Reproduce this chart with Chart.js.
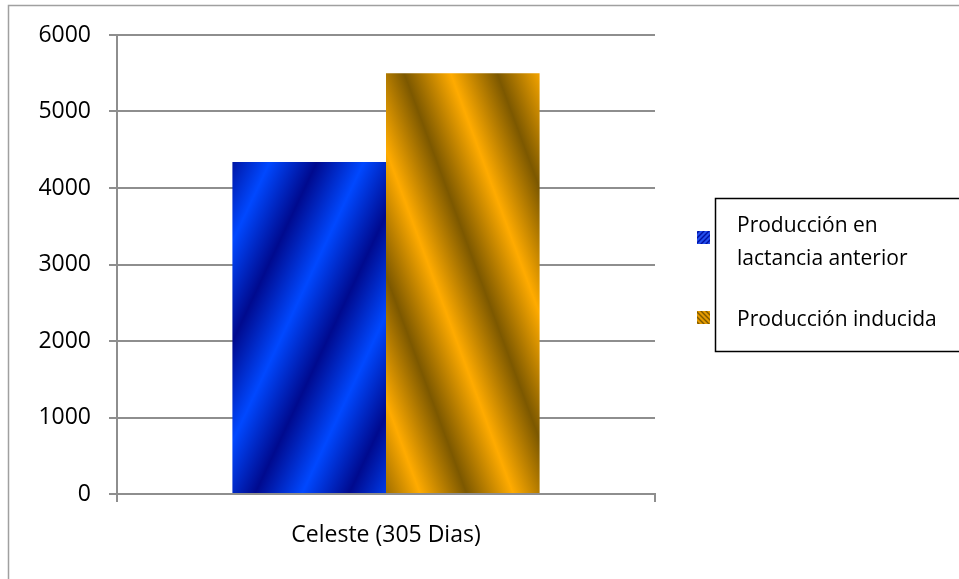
<!DOCTYPE html>
<html>
<head>
<meta charset="utf-8">
<script src="https://cdn.jsdelivr.net/npm/chart.js@4"></script>
<style>
  html, body { margin: 0; padding: 0; background: #ffffff; }
  #wrap { width: 959px; height: 579px; position: relative; }
</style>
</head>
<body>
<div id="wrap"><canvas id="chart" width="959" height="579"></canvas></div>
<script>
// Milk production, one cow, 305-day lactation
const categories = ['Celeste (305 Dias)'];
const seriesNames = ['Producción en lactancia anterior', 'Producción inducida'];
const legendLines = [['Producción en', 'lactancia anterior'], ['Producción inducida']];
const previousLactation = [4340];
const inducedProduction = [5500];
const yMin = 0;
const yMax = 6000;
const yStep = 1000;

const FONT = '"Open Sans", "Liberation Sans", sans-serif';

// Diagonal banded fill: phase = x + dir*k*y, repeating every `period` px horizontally
function bandedFill(ctx, k, dir, phase0, period, dark, light) {
  const lo = -400, span = 1800;
  const n2 = 1 + k * k;
  const ax = lo, ay = 0;
  const bx = ax + span / n2, by = ay + span * dir * k / n2;
  const g = ctx.createLinearGradient(ax, ay, bx, by);
  let start = phase0 - Math.ceil((phase0 - lo) / period) * period;
  for (let p = start; p <= lo + span + period; p += period) {
    const pts = [[0, dark], [0.5, light]];
    for (const [f, c] of pts) {
      const t = (p + f * period - lo) / span;
      if (t >= 0 && t <= 1) g.addColorStop(t, c);
    }
  }
  return g;
}

const fills = {};
function barFill(idx) {
  return function (context) {
    const chart = context.chart;
    if (!chart.chartArea) return idx === 0 ? '#0033dd' : '#e09a00';
    if (!fills[idx]) {
      fills[idx] = idx === 0
        ? bandedFill(chart.ctx, 0.47, 1, 393, 94, '#000a8e', '#0048ff')
        : bandedFill(chart.ctx, 0.37, -1, 377, 93, '#7c5800', '#ffab00');
    }
    return fills[idx];
  };
}

// Sheet frame and the boxed legend on the right
const decorations = {
  id: 'decorations',
  beforeDraw(chart) {
    const c = chart.ctx;
    c.save();
    c.fillStyle = '#ffffff';
    c.fillRect(0, 0, chart.width, chart.height);
    c.strokeStyle = '#a0a0a0';
    c.lineWidth = 1.5;
    c.beginPath();
    c.moveTo(8.5, chart.height + 2);
    c.lineTo(8.5, 5.5);
    c.lineTo(chart.width + 2, 5.5);
    c.stroke();
    c.restore();
  },
  afterDraw(chart) {
    const c = chart.ctx;
    c.save();
    // legend box
    c.strokeStyle = '#000000';
    c.lineWidth = 1.5;
    c.strokeRect(715.5, 198.5, 300, 153);
    c.font = '21px ' + FONT;
    c.fillStyle = '#000000';
    c.textBaseline = 'middle';
    c.textAlign = 'left';
    const rows = [[226, 259], [320]];
    const markerY = [237, 317];
    const markerFills = [
      bandedFill(c, 1, 1, 700, 5, '#0010a0', '#2a5cff'),
      bandedFill(c, 1, -1, 700, 5, '#7c5800', '#ffab00')
    ];
    legendLines.forEach((lines, i) => {
      c.fillStyle = markerFills[i];
      c.fillRect(697, markerY[i] - 6, 13, 13);
      c.fillStyle = '#000000';
      lines.forEach((t, j) => c.fillText(t, 737, rows[i][j]));
    });
    c.restore();
  }
};

new Chart(document.getElementById('chart'), {
  type: 'bar',
  data: {
    labels: categories,
    datasets: [
      { label: seriesNames[0], data: previousLactation, backgroundColor: barFill(0), borderWidth: 0 },
      { label: seriesNames[1], data: inducedProduction, backgroundColor: barFill(1), borderWidth: 0 }
    ]
  },
  options: {
    responsive: false,
    animation: false,
    devicePixelRatio: 1,
    layout: { padding: { top: 35, left: 0, right: 304, bottom: 0 } },
    datasets: { bar: { categoryPercentage: 0.571, barPercentage: 1 } },
    plugins: { legend: { display: false }, tooltip: { enabled: false } },
    scales: {
      x: {
        offset: true,
        grid: { display: true, drawOnChartArea: false, drawTicks: true, tickLength: 8, color: '#8e8e8e', lineWidth: 2, offset: true },
        border: { display: true, color: '#8e8e8e', width: 2 },
        ticks: { color: '#000000', font: { family: FONT, size: 23 }, padding: 20 },
        afterFit(s) { s.height = 85; }
      },
      y: {
        min: yMin,
        max: yMax,
        ticks: { stepSize: yStep, color: '#000000', font: { family: FONT, size: 23 }, padding: 18,
                 callback: (v) => String(v) },
        grid: { color: '#8e8e8e', lineWidth: 2, drawTicks: true, tickLength: 8 },
        border: { display: true, color: '#8e8e8e', width: 2 },
        afterFit(s) { s.width = 117; }
      }
    }
  },
  plugins: [decorations]
});
</script>
</body>
</html>
